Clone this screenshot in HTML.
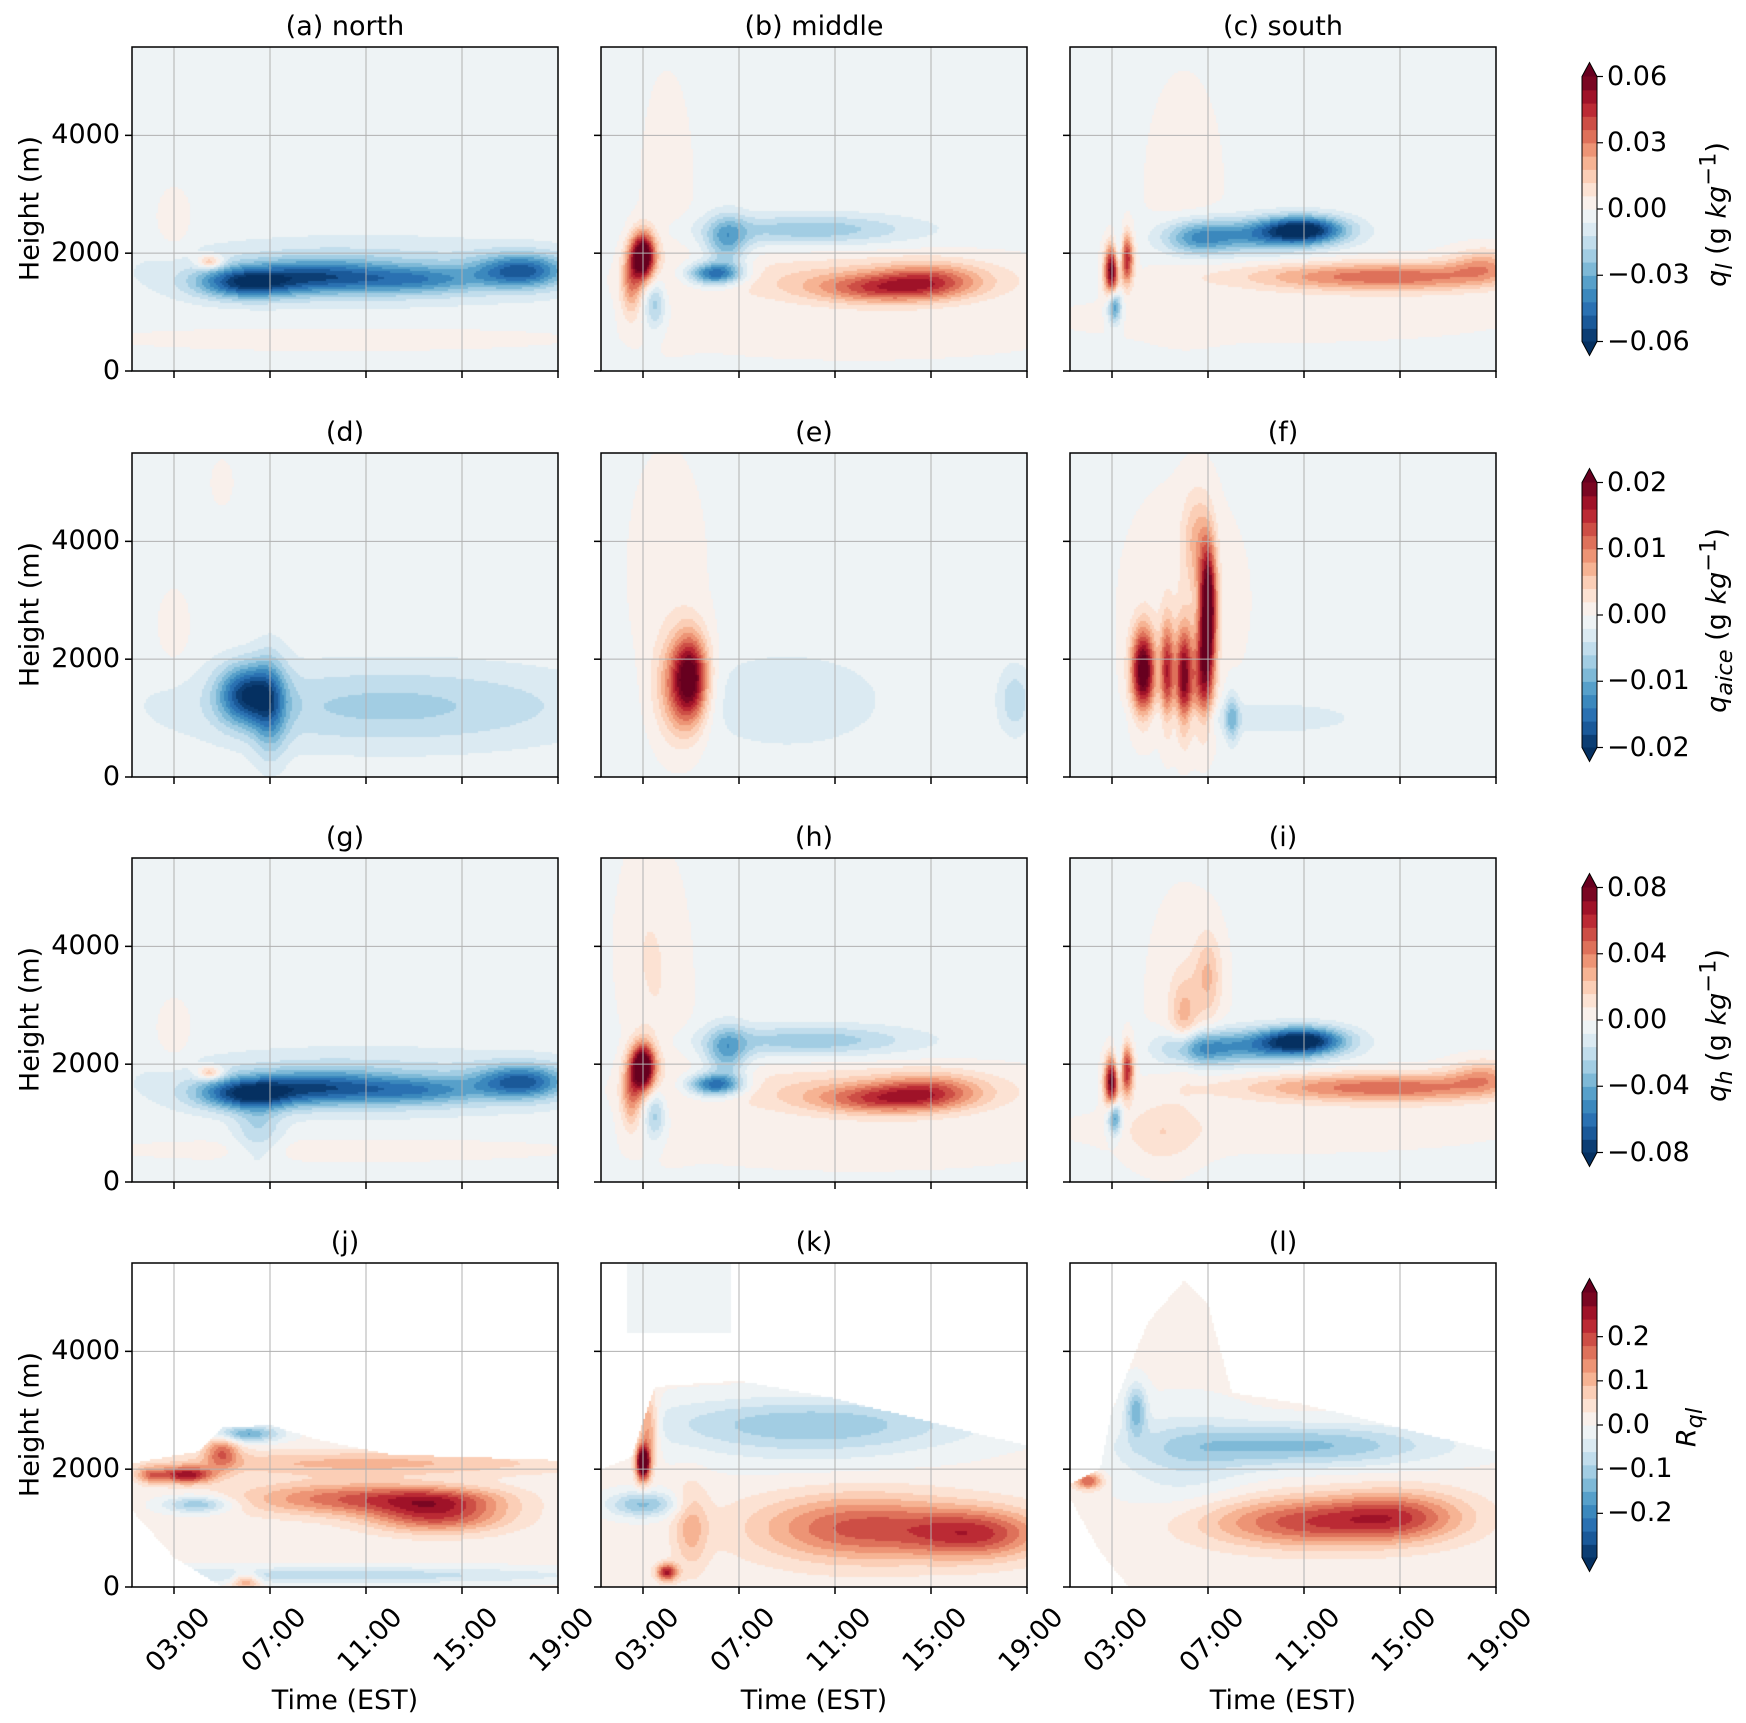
<!DOCTYPE html>
<html><head><meta charset="utf-8">
<style>
body{margin:0;background:#fff;}
#fig{position:relative;width:1746px;height:1723px;overflow:hidden;background:#fff;font-family:"DejaVu Sans","Liberation Sans",sans-serif;color:#000;}
.t{position:absolute;white-space:nowrap;font-size:27px;line-height:1;}
canvas{position:absolute;}
svg{position:absolute;left:0;top:0;}
</style></head>
<body>
<div id="fig">
<svg id="ov" width="1746" height="1723"></svg>
</div>
<script>
// ---- data ----
const xTickHours = [3, 7, 11, 15, 19];
const xTickLabels = ["03:00", "07:00", "11:00", "15:00", "19:00"];
const yTicks = [0, 2000, 4000];
const panelTitles = ["(a) north","(b) middle","(c) south","(d)","(e)","(f)","(g)","(h)","(i)","(j)","(k)","(l)"];
const rowMax = [0.06, 0.02, 0.08, 0.3];
const rowTicks = [[-0.06,-0.03,0,0.03,0.06],[-0.02,-0.01,0,0.01,0.02],[-0.08,-0.04,0,0.04,0.08],[-0.2,-0.1,0,0.1,0.2]];
const rowTickLabels = [["\u22120.06","\u22120.03","0.00","0.03","0.06"],["\u22120.02","\u22120.01","0.00","0.01","0.02"],["\u22120.08","\u22120.04","0.00","0.04","0.08"],["\u22120.2","\u22120.1","0.0","0.1","0.2"]];
const rowCbarLabels = ['<i>q<sub>l</sub></i> (g <i>kg</i><sup>\u22121</sup>)','<i>q<sub>aice</sub></i> (g <i>kg</i><sup>\u22121</sup>)','<i>q<sub>h</sub></i> (g <i>kg</i><sup>\u22121</sup>)','<i>R<sub>ql</sub></i>'];
const rowBaseline = [-0.03, -0.03, -0.03, 0.03];
// blobs: [time(h), height(m), sigmaT(h), sigmaZ(m), amplitude (fraction of colour max)]
const blobsA = [[4.5,1850,0.4,80,0.45],[6,1500,1.4,180,-0.8],[9,1600,1.8,200,-0.55],[13,1550,2,170,-0.45],[17.5,1700,1.3,200,-0.7],[11,1700,6,380,-0.25],[3,2500,0.5,400,0.1],[10,550,7,150,0.08]];
const blobsB = [[3,1950,0.35,280,1.3],[2.5,1500,0.3,400,0.45],[3.5,1150,0.3,300,-0.35],[6,1650,0.8,130,-0.8],[6.5,2200,0.6,300,-0.45],[10,2400,3,180,-0.35],[13,1400,2,170,0.5],[15,1550,1.5,200,0.4],[12,1550,5,300,0.25],[4,3000,0.8,1500,0.08],[12,600,6,300,0.08]];
const blobsC = [[3,1700,0.22,300,1.1],[3.3,1900,0.15,300,-0.5],[3.6,1900,0.2,300,0.85],[3.1,1100,0.2,200,-0.65],[6.5,2250,1,220,-0.45],[11,2400,1.2,160,-0.9],[9,2300,2,200,-0.5],[12,1600,3,170,0.4],[16,1600,2.5,180,0.4],[18.5,1800,1,200,0.35],[6,3000,1.2,1500,0.08],[10,900,7,300,0.08]];
const blobsD = [[6,1400,0.8,350,-0.8],[7,1200,0.5,600,-0.45],[12,1200,6,500,-0.3],[3,2500,0.5,500,0.08],[5,5000,0.3,250,0.1]];
const blobsE = [[5,1700,0.5,500,0.85],[4.5,1500,0.7,600,0.5],[9,1300,3,600,-0.15],[18.5,1300,0.5,400,-0.25],[4,3500,1.2,1500,0.08]];
const blobsF = [[4.3,1800,0.35,500,1.15],[5.3,1800,0.2,600,0.75],[6,1700,0.25,600,0.95],[7,2900,0.25,750,1.15],[6.8,1700,0.3,600,0.7],[8,1000,0.2,300,-0.35],[9,1000,3,200,-0.15],[6.5,4000,0.4,600,0.3],[6,3000,2,1500,0.08]];
const blobsG = blobsA.concat([[6.5,900,0.7,400,-0.25]]);
const blobsH = blobsB.concat([[3,4000,0.8,1200,0.1]]);
const blobsI = blobsC.concat([[6,2800,0.4,500,0.3],[7,3500,0.4,500,0.3],[5,800,1,400,0.15]]);
const blobsJ = [[3.5,1900,0.8,100,0.8],[5,2300,0.5,200,0.5],[6,2600,1,100,-0.55],[10,1500,3,200,0.5],[14,1200,2,200,0.6],[14,1500,2,150,0.4],[4,1400,1,100,-0.45],[10,200,7,100,-0.3],[6,100,0.4,100,0.45],[11,2100,6,150,0.3],[2,1900,0.4,100,0.4]];
const blobsK = [[3,2100,0.2,200,1.3],[3.2,2700,0.3,400,0.5],[12,1000,3,400,0.6],[17,900,2,300,0.6],[10,2800,5,300,-0.3],[3,1400,1,150,-0.45],[4,250,0.3,100,0.8],[5,1000,0.5,500,0.3],[10,2500,4,400,-0.15]];
const blobsL = [[2,1800,0.4,100,0.6],[11,1100,3,300,0.6],[15,1200,2,300,0.5],[11,2400,4,250,-0.45],[6,2200,2,600,-0.2],[4,3000,0.3,300,-0.45]];
const panelBlobs = [blobsA,blobsB,blobsC,blobsD,blobsE,blobsF,blobsG,blobsH,blobsI,blobsJ,blobsK,blobsL];
// row-4 valid-data envelopes (time, top height) and (time, bottom height)
const envTopTJ = [1.25,4,5,7,9,12,19], envTopZJ = [2100,2300,2700,2750,2500,2250,2150];
const envBotTJ = [1.25,3,5,19], envBotZJ = [1300,500,0,0];
const envTopTK = [1.25,2.5,3.5,7,11,15,19], envTopZK = [2000,2200,3400,3500,3200,2800,2400];
const envBotTK = [1.25,19], envBotZK = [0,0];
const envTopTL = [1.25,2.5,3,4.5,6,7,8,11,15,19], envTopZL = [1750,2000,3000,4500,5200,4800,3300,3100,2700,2300];
const envBotTL = [1.25,2.5,3.7,19], envBotZL = [1500,600,0,0];
// panel k detached upper patch: [t0, t1, zBottom, value]
const patchK = [2.3, 6.7, 4300, -0.03];

// ---- layout ----
const colLeft = [132, 601, 1070], rowTop = [47, 453, 858, 1263];
const PW = 426, PH = 324, T0 = 1.25, T1 = 19, ZMAX = 5500;
const cbX = 1582, cbW = 15;
const fig = document.getElementById('fig');
const ov = document.getElementById('ov');
const NS = 'http://www.w3.org/2000/svg';

const stops = ['#053061','#2166ac','#4393c3','#92c5de','#d1e5f0','#f7f7f7','#fddbc7','#f4a582','#d6604d','#b2182b','#67001f'];
function hex(c){return [parseInt(c.slice(1,3),16),parseInt(c.slice(3,5),16),parseInt(c.slice(5,7),16)];}
const stopRGB = stops.map(hex);
function cmap(t){t=Math.max(0,Math.min(1,t));const p=t*10,i=Math.min(9,Math.floor(p)),f=p-i;const a=stopRGB[i],b=stopRGB[i+1];return [0,1,2].map(k=>Math.round(a[k]+(b[k]-a[k])*f));}
const NB = 20;
function binColor(v){
  if(v<-1) return cmap(0);
  if(v>1) return cmap(1);
  let i=Math.floor((v+1)/2*NB); if(i>=NB)i=NB-1;
  return cmap((i+0.5)/NB);
}
function interp(ts,zs,t){if(t<=ts[0])return zs[0];for(let i=1;i<ts.length;i++){if(t<=ts[i]){const f=(t-ts[i-1])/(ts[i]-ts[i-1]);return zs[i-1]+f*(zs[i]-zs[i-1]);}}return zs[zs.length-1];}
const envs = {9:[envTopTJ,envTopZJ,envBotTJ,envBotZJ],10:[envTopTK,envTopZK,envBotTK,envBotZK],11:[envTopTL,envTopZL,envBotTL,envBotZL]};

function el(tag,attrs,parent){const e=document.createElementNS(NS,tag);for(const k in attrs)e.setAttribute(k,attrs[k]);(parent||ov).appendChild(e);return e;}
function text(str,x,y,cls,extra){const d=document.createElement('div');d.className='t';d.innerHTML=str;d.style.left=x+'px';d.style.top=y+'px';if(extra)Object.assign(d.style,extra);fig.appendChild(d);return d;}

for(let p=0;p<12;p++){
  const r=Math.floor(p/3), c=p%3, L=colLeft[c], T=rowTop[r];
  const xs=t=>L+(t-T0)/(T1-T0)*PW, ys=z=>T+PH-z/ZMAX*PH;
  const cv=document.createElement('canvas');
  cv.width=PW;cv.height=PH;cv.style.left=L+'px';cv.style.top=T+'px';
  
  
  fig.insertBefore(cv,ov);
  const ctx=cv.getContext('2d');
  const blobs=panelBlobs[p], base=rowBaseline[r], S=2;
  for(let px=0;px<PW;px+=S){
    const t=T0+(px+S/2)/PW*(T1-T0);
    let top=ZMAX+1,bot=-1;
    if(envs[p]){top=interp(envs[p][0],envs[p][1],t);bot=interp(envs[p][2],envs[p][3],t);}
    for(let py=0;py<PH;py+=S){
      const z=(PH-(py+S/2))/PH*ZMAX;
      let v;
      if(z>top||z<bot){
        if(p===10&&t>=patchK[0]&&t<=patchK[1]&&z>=patchK[2]) v=patchK[3];
        else continue;
      } else {
        v=base;
        for(const b of blobs){const dt=(t-b[0])/b[2],dz=(z-b[1])/b[3];v+=b[4]*Math.exp(-0.5*(dt*dt+dz*dz));}
      }
      const col=binColor(v);
      ctx.fillStyle='rgb('+col[0]+','+col[1]+','+col[2]+')';
      ctx.fillRect(px,py,S,S);
    }
  }
  for(const h of xTickHours){const x=xs(h);if(x<L+PW-1){const g=el('line',{x1:x,x2:x,y1:T,y2:T+PH,stroke:'#b0b0b0','stroke-width':1});}}
  for(const z of yTicks){if(z>0){const g=el('line',{x1:L,x2:L+PW,y1:ys(z),y2:ys(z),stroke:'#b0b0b0','stroke-width':1});}}
  const fr=el('rect',{x:L,y:T,width:PW,height:PH,fill:'none',stroke:'#000','stroke-width':1.5});
  
  for(let i=0;i<xTickHours.length;i++){const x=xs(xTickHours[i]);const tk=el('line',{x1:x,x2:x,y1:T+PH,y2:T+PH+7,stroke:'#000','stroke-width':1.5});
    if(r===3){const d=text(xTickLabels[i],x+22-90,T+PH+16,'',{transform:'rotate(-45deg)',transformOrigin:'100% 0',width:'90px',textAlign:'right'});}}
  for(const z of yTicks){const y=ys(z);const tk=el('line',{x1:L-7,x2:L,y1:y,y2:y,stroke:'#000','stroke-width':1.5});
    if(c===0){const d=text(String(z),L-112,y-14,'',{width:'100px',textAlign:'right'});}}
  const ti=text(panelTitles[p],L,T-34,'',{width:PW+'px',textAlign:'center'});
  
  if(c===0){const yl=text('Height (m)',L-102-100,T+PH/2-14,'',{width:'200px',textAlign:'center',transform:'rotate(-90deg)'});}
  if(r===3){const xl=text('Time (EST)',L,T+PH+100,'',{width:PW+'px',textAlign:'center'});}
}
for(let r=0;r<4;r++){
  const cy=rowTop[r]+PH/2, H=265, top=cy-H/2, M=rowMax[r];
  const ysC=v=>top+H-(v+M)/(2*M)*H;
  for(let i=0;i<NB;i++){const v=-1+(i+0.5)*2/NB;const col=binColor(v);
    const rc=el('rect',{x:cbX,y:top+H-(i+1)*H/NB,width:cbW,height:H/NB+0.6,fill:'rgb('+col+')'});}
  const o=cmap(1),u=cmap(0);
  const tp=el('polygon',{points:`${cbX},${top} ${cbX+cbW},${top} ${cbX+cbW/2},${top-14}`,fill:'rgb('+o+')'});
  const bp=el('polygon',{points:`${cbX},${top+H} ${cbX+cbW},${top+H} ${cbX+cbW/2},${top+H+14}`,fill:'rgb('+u+')'});
  const ol=el('polygon',{points:`${cbX},${top} ${cbX+cbW/2},${top-14} ${cbX+cbW},${top} ${cbX+cbW},${top+H} ${cbX+cbW/2},${top+H+14} ${cbX},${top+H}`,fill:'none',stroke:'#000','stroke-width':1});
  rowTicks[r].forEach((v,i)=>{const y=ysC(v);const tk=el('line',{x1:cbX+cbW,x2:cbX+cbW+6,y1:y,y2:y,stroke:'#000','stroke-width':1.2});
    const d=text(rowTickLabels[r][i],cbX+cbW+10,y-14);});
  const lb=text(rowCbarLabels[r],(r===3?1690:1717)-150,cy-14,'',{width:'300px',textAlign:'center',transform:'rotate(-90deg)'});
  
}
</script>
</body></html>
